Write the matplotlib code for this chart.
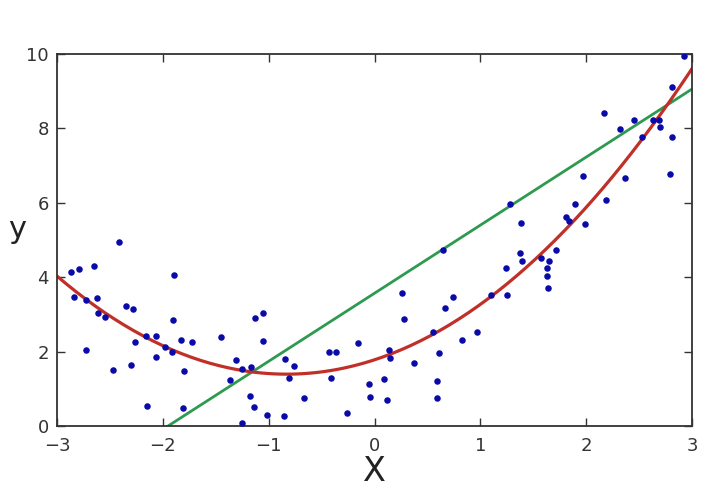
import numpy as np
import matplotlib
matplotlib.use("Agg")
import matplotlib.pyplot as plt

# scatter data
x_pts = [-2.87, -2.79, -2.65, -2.41, -2.84, -2.73, -2.62, -2.61, -2.55, -2.73,
         -2.47, -2.35, -2.28, -2.26, -2.30, -2.16, -2.15, -2.06, -2.06, -1.98,
         -1.91, -1.89, -1.90, -1.83, -1.72, -1.80, -1.81, -1.45, -1.37, -1.31,
         -1.25, -1.17, -1.25, -1.18, -1.14, -1.13, -1.05, -1.05, -1.02, -0.86,
         -0.85, -0.81, -0.76, -0.67, -0.43, -0.36, -0.41, -0.26, -0.16, -0.05,
         -0.04,
         2.92, 2.81, 2.17, 2.32, 2.45, 2.53, 2.63, 2.69, 2.70, 2.81,
         2.79, 1.97, 2.37, 2.19, 1.28, 1.89, 1.81, 1.84, 1.99, 1.38,
         1.37, 1.39, 1.71, 1.57, 1.65, 1.63, 1.63, 1.64, 1.24, 1.25,
         1.10, 0.65, 0.26, 0.74, 0.67, 0.28, 0.55, 0.83, 0.97, 0.61,
         0.14, 0.15, 0.37, 0.09, 0.12, 0.59, 0.59]
y_pts = [4.15, 4.23, 4.31, 4.95, 3.48, 3.38, 3.45, 3.05, 2.94, 2.05,
         1.51, 3.23, 3.14, 2.25, 1.63, 2.42, 0.54, 2.41, 1.85, 2.13,
         2.00, 4.07, 2.86, 2.30, 2.26, 1.48, 0.48, 2.38, 1.24, 1.77,
         1.52, 1.58, 0.07, 0.80, 0.52, 2.91, 3.05, 2.28, 0.30, 0.27,
         1.79, 1.28, 1.62, 0.75, 1.99, 1.99, 1.28, 0.34, 2.24, 1.14,
         0.79,
         9.96, 9.10, 8.41, 7.98, 8.22, 7.78, 8.22, 8.22, 8.04, 7.77,
         6.77, 6.72, 6.66, 6.07, 5.98, 5.96, 5.62, 5.52, 5.43, 5.46,
         4.65, 4.43, 4.74, 4.52, 4.43, 4.25, 4.03, 3.70, 4.24, 3.52,
         3.52, 4.72, 3.58, 3.48, 3.18, 2.89, 2.53, 2.32, 2.52, 1.96,
         2.04, 1.83, 1.69, 1.27, 0.71, 1.20, 0.76]

# model coefficients
quad_coef = [0.56, 0.93, 1.78]   # a*x^2 + b*x + c
lin_coef = [1.83, 3.57]          # m*x + q

x_range = [-3, 3]
y_range = [0, 10]
x_ticks = [-3, -2, -1, 0, 1, 2, 3]
x_tick_labels = ["\u22123", "\u22122", "\u22121", "0", "1", "2", "3"]
y_ticks = [0, 2, 4, 6, 8, 10]

fig = plt.figure(figsize=(7.16, 4.96), dpi=100)
ax = fig.add_axes([0.0796, 0.1411, 0.887, 0.750])

ax.scatter(x_pts, y_pts, s=22, color="#0a0aa8", zorder=3, linewidths=0)

xs = np.linspace(x_range[0], x_range[1], 200)
ax.plot(xs, np.polyval(lin_coef, xs), color="#2e9a50", lw=2.0, zorder=2)
ax.plot(xs, np.polyval(quad_coef, xs), color="#c03028", lw=2.3, zorder=2)

ax.set_xlim(*x_range)
ax.set_ylim(*y_range)
ax.set_xticks(x_ticks)
ax.set_xticklabels(x_tick_labels)
ax.set_yticks(y_ticks)
ax.tick_params(direction="in", top=True, right=True, length=6, width=1,
               labelsize=13, colors="#333333")
ax.tick_params(axis="x", pad=8)
ax.tick_params(axis="y", pad=6)
for s in ax.spines.values():
    s.set_linewidth(1.3)
    s.set_color("#333333")

ax.set_xlabel("X", fontsize=24, color="#222222", labelpad=0)
ax.set_ylabel("y", fontsize=22, rotation=0, color="#222222")
ax.yaxis.set_label_coords(-0.062, 0.49)

fig.savefig("out.png", dpi=100)
